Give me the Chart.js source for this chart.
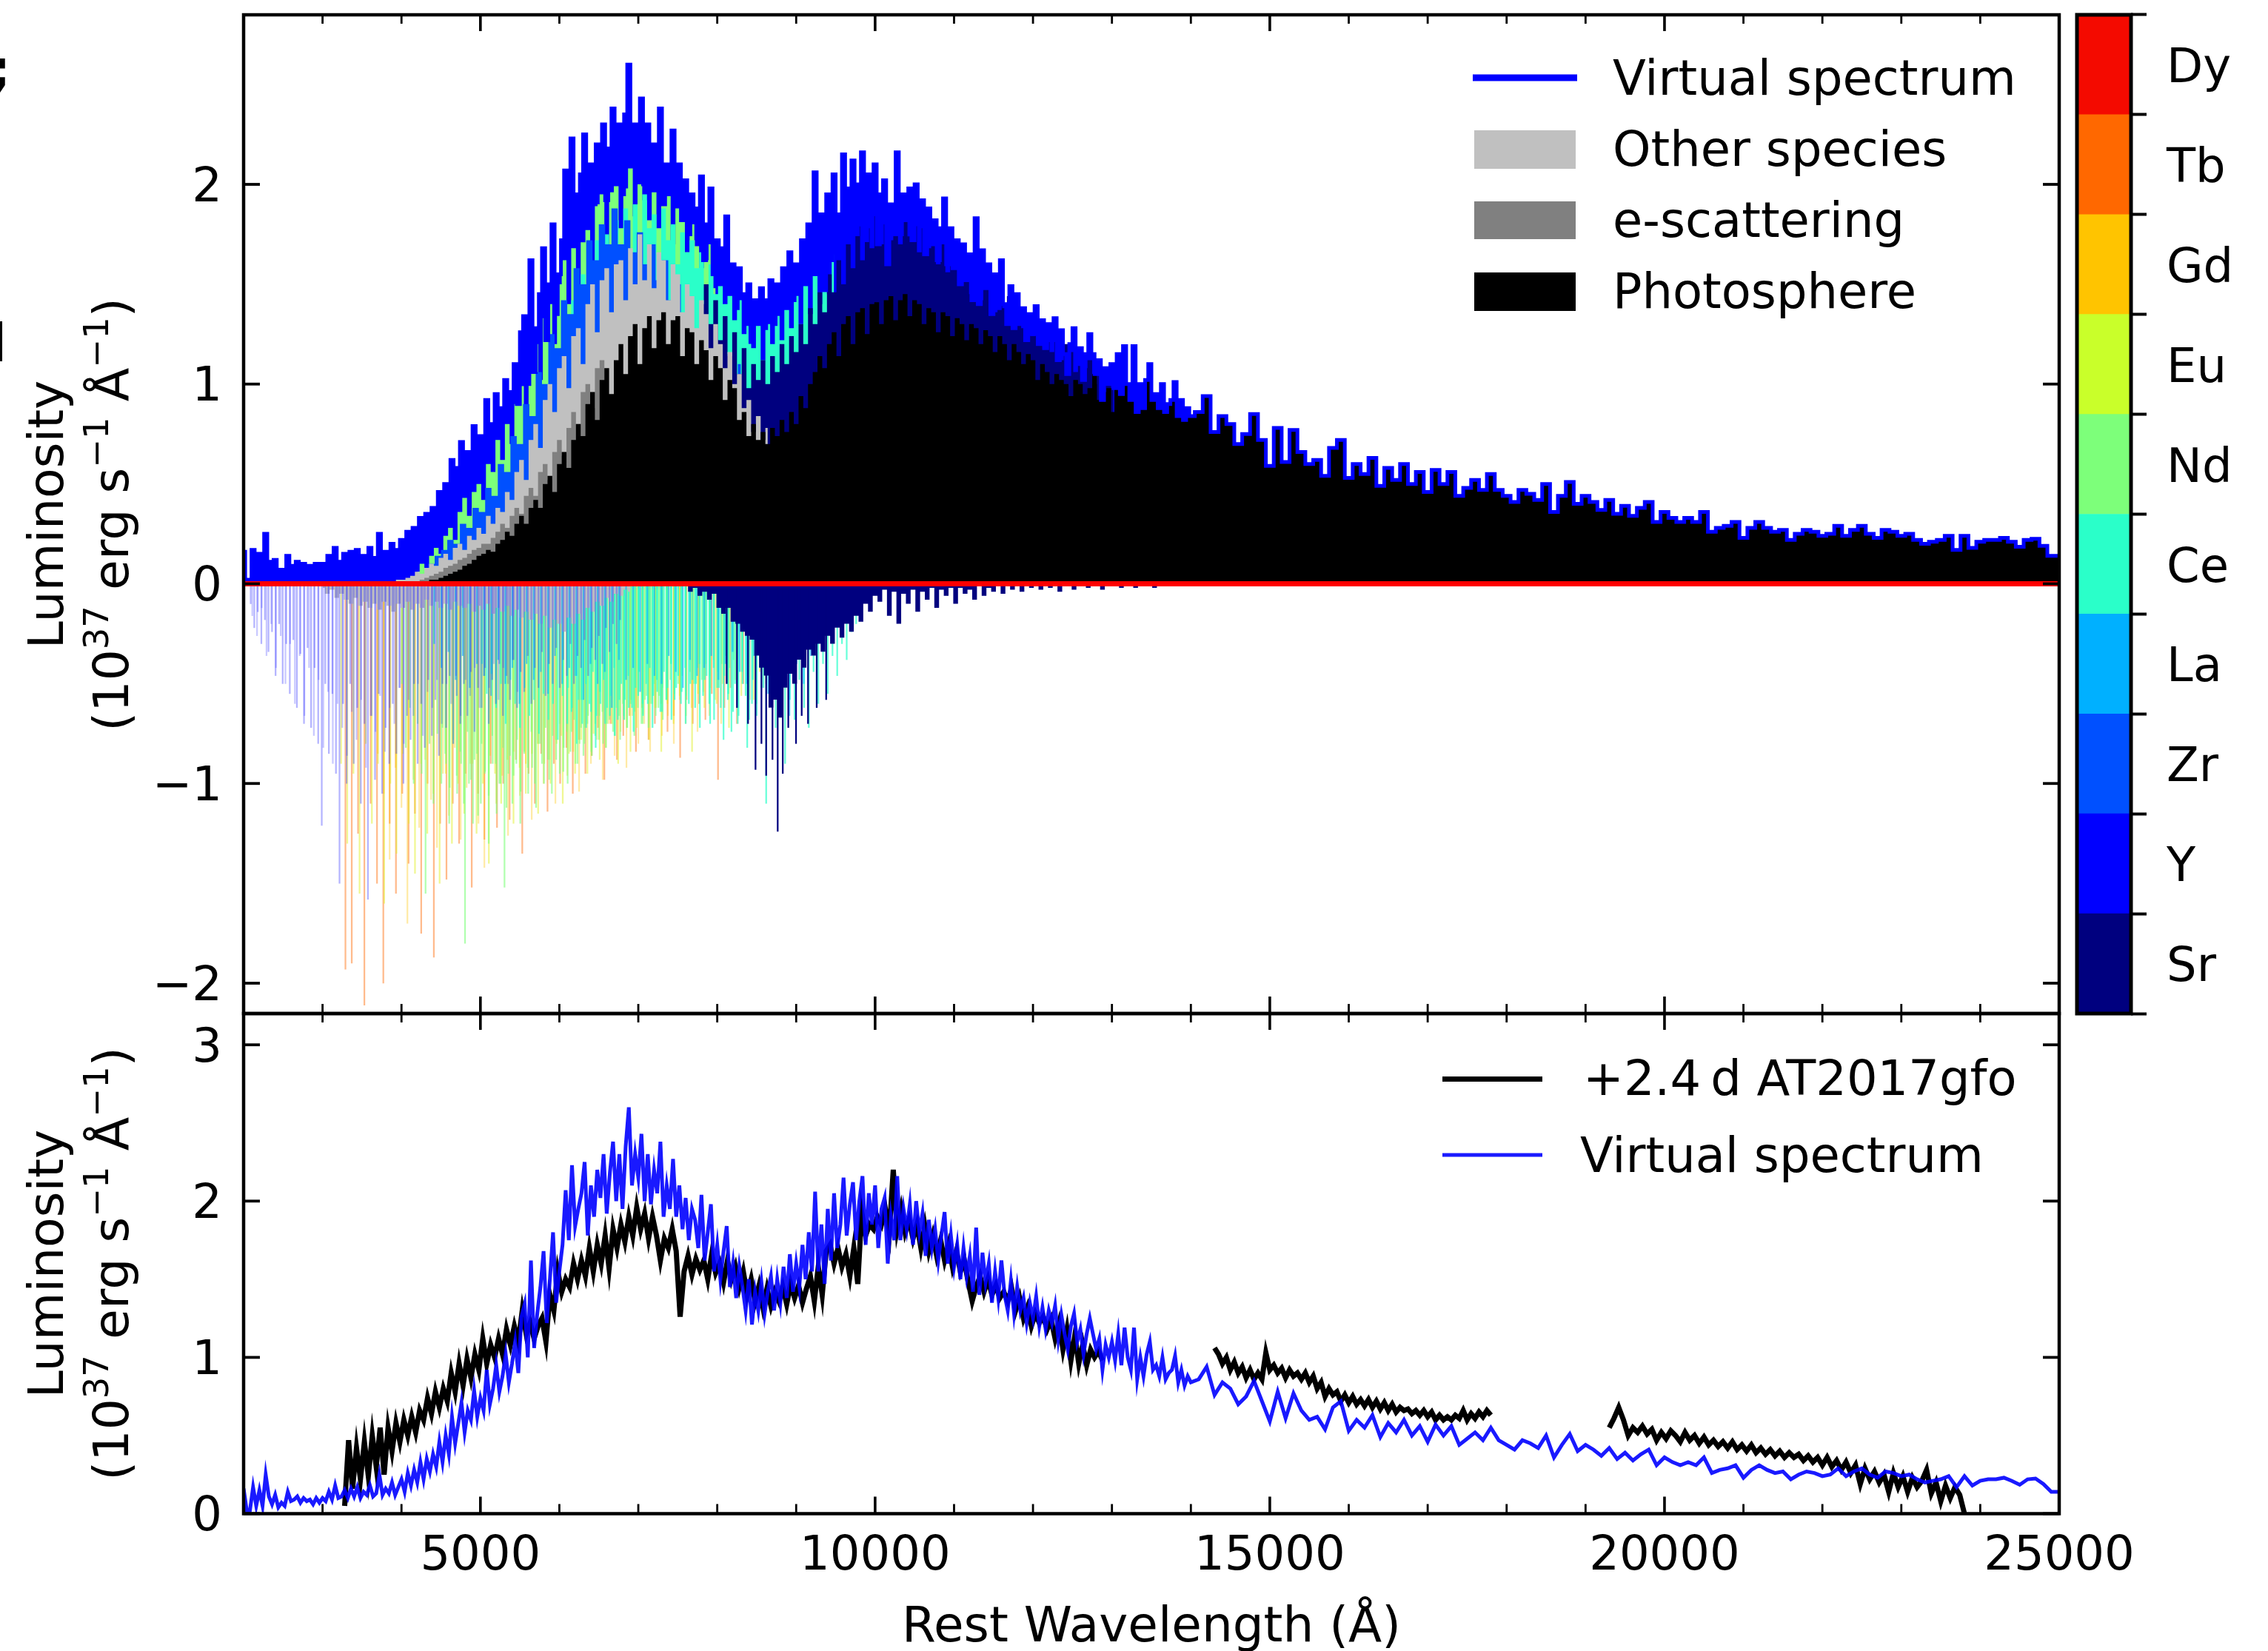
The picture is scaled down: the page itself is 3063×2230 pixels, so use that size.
<!DOCTYPE html>
<html lang="en">
<head>
  <meta charset="UTF-8" />
  <title>Virtual spectrum vs AT2017gfo</title>
  <script src="https://cdn.jsdelivr.net/npm/chart.js"></script>
  <style>
    body { margin: 0; background: #fff; overflow: hidden; }
    canvas { position: absolute; left: 0; top: -100px; }
  </style>
</head>
<body>
  <canvas id="spectrumChart" width="3063" height="2400"></canvas>
  <canvas id="compareChart" width="3063" height="2400"></canvas>
  <canvas id="elementBar" width="3063" height="2400"></canvas>
  <script>
    // luminosity in 1e37 erg/s/A
    // virtual spectrum, 2000-13960 A every 40 A
    const virtualBlue = [
      .16,.02,.02,.17,.05,.15,.05,.25,.11,.06,.12,.04,.07,.05,.14,.08,.09,.11,.07,.10,.08,.09,.06,.10,.07,
      .10,.08,.14,.09,.18,.10,.11,.15,.10,.16,.11,.17,.10,.14,.12,.18,.11,.13,.25,.12,.16,.13,.20,.12,.17,
      .22,.14,.26,.18,.28,.20,.33,.22,.35,.27,.38,.30,.46,.33,.50,.38,.62,.45,.58,.71,.52,.66,.60,.79,.62,
      .74,.66,.92,.70,.80,.95,.78,.88,1.02,.84,.96,1.10,.90,1.26,1.34,1.0,1.62,1.06,1.28,1.45,1.68,1.22,1.50,1.80,1.35,
      1.55,1.72,2.07,1.75,2.23,1.84,1.95,2.05,2.25,1.78,2.1,1.9,2.2,2.02,2.3,1.92,2.18,2.38,2.0,2.3,1.95,2.35,2.6,2.1,2.3,
      2.15,2.43,2.0,2.3,1.98,2.2,2.05,2.38,1.9,2.1,1.95,2.27,1.9,2.1,1.82,2.02,1.75,1.95,1.88,1.7,2.04,1.62,1.8,1.98,1.55,
      1.72,1.5,1.68,1.84,1.45,1.6,1.38,1.58,1.45,1.3,1.5,1.21,1.42,1.3,1.48,1.28,1.42,1.52,1.3,1.5,1.35,1.58,1.38,1.66,1.42,
      1.6,1.45,1.72,1.5,1.8,1.55,2.06,1.55,1.85,1.47,1.95,1.62,2.05,1.7,1.85,2.15,1.78,1.98,2.12,1.75,2.0,2.16,1.72,2.05,1.85,
      2.1,1.7,1.95,2.02,1.6,1.9,1.75,2.16,1.75,1.95,1.82,1.98,1.72,2.0,1.8,1.92,1.65,1.88,1.7,1.82,1.62,1.78,1.93,1.6,1.78,
      1.58,1.72,1.5,1.7,1.52,1.65,1.42,1.83,1.4,1.67,1.48,1.6,1.35,1.55,1.38,1.62,1.4,1.3,1.49,1.28,1.45,1.3,1.38,1.22,1.35,
      1.25,1.39,1.2,1.32,1.18,1.3,1.22,1.33,1.12,1.27,1.15,1.05,1.2,1.28,1.1,1.18,1.02,1.15,1.25,1.15,1.05,1.12,.92,1.08,1.0,
      1.1,.98,1.15,.95,1.19,1.0,.92,1.19,.86,1.0,.88,1.02,1.1,.92,.95,.88,1.0,.86,.9,.92,1.01,.84,.92,.82,.88
    ];
    // virtual spectrum, 14000-25000 A every 100 A
    const virtualRed = [
      .84,.86,.94,.76,.84,.80,.70,.75,.85,.72,
      .59,.78,.61,.77,.66,.60,.62,.54,.68,.72,
      .53,.60,.55,.63,.49,.58,.52,.60,.50,.56,
      .46,.57,.50,.56,.44,.48,.52,.47,.55,.47,
      .44,.41,.47,.45,.42,.50,.36,.44,.51,.40,
      .44,.41,.37,.42,.35,.39,.34,.38,.41,.31,
      .36,.33,.31,.33,.31,.36,.26,.28,.29,.31,
      .23,.28,.31,.28,.26,.27,.22,.25,.27,.26,
      .24,.25,.29,.24,.27,.29,.25,.23,.27,.26,
      .24,.25,.22,.20,.21,.22,.24,.17,.24,.18,
      .21,.22,.22,.23,.21,.185,.22,.225,.19,.14,
      .14
    ];

    // top edge of each emission layer, every 60 A
    const photosphereTop = [
      0,.01,.02,.02,.03,.04,.05,.06,.07,.09,.1,.12,.14,.15,.17,.16,.2,
      .22,.26,.24,.3,.34,.3,.38,.42,.38,.5,.54,.46,.6,.66,.58,.72,.8,
      .74,.9,.96,.82,1.02,1.08,.95,1.12,1.2,1.05,1.24,1.3,1.1,1.28,1.34,1.18,1.32,
      1.36,1.2,1.32,1.34,1.14,1.28,1.26,1.1,1.22,1.17,1.02,1.14,1.08,.92,1.02,.98,.82,
      .86,.74,.8,.72,.76,.7,.78,.74,.82,.76,.86,.8,.94,.88,1.0,1.06,1.14,
      1.08,1.2,1.26,1.14,1.3,1.34,1.2,1.36,1.38,1.25,1.4,1.41,1.3,1.42,1.44,1.32,1.42,
      1.45,1.34,1.42,1.4,1.3,1.38,1.36,1.26,1.36,1.34,1.24,1.33,1.3,1.22,1.3,1.28,1.2,
      1.27,1.24,1.16,1.24,1.2,1.12,1.2,1.16,1.1,1.15,1.12,1.02,1.1,1.06,1.0,1.05,1.02,
      1.0,.94,1.02,1.0,.95,.98,1.05,.92,.96,.98,.86
    ];
    const escatterTop = [
      .01,.02,.03,.04,.05,.06,.08,.09,.1,.12,.13,.15,.17,.18,.2,.2,.23,.26,.3,.28,.34,
      .38,.35,.44,.48,.44,.56,.6,.52,.66,.72,.64,.78,.86,.8,.96,1.0,.88,1.08,1.12,1.0
    ];
    const otherTop = [
      .01,.02,.02,.03,.04,.06,.05,.08,.1,.09,.13,.15,.12,.18,.2,.17,.24,
      .22,.28,.25,.34,.3,.38,.36,.46,.42,.56,.62,.52,.72,.8,.68,.92,1.0,
      .86,1.08,1.14,.98,1.24,1.28,1.1,1.4,1.5,1.26,1.52,1.58,1.36,1.6,1.62,1.42,1.68,
      1.5,1.75,1.52,1.7,1.48,1.66,1.62,1.42,1.6,1.55,1.36,1.5,1.44,1.28,1.42,1.35,1.18,
      1.3,1.2,1.08,1.16,1.0,1.05,.88,.92,.76,.84,.72,.78
    ];
    const srTop = [
      1.4,1.5,1.3,1.42,1.22,1.34,1.14,1.26,1.05,1.18,.98,1.1,1.02,1.12,1.0,1.14,1.06,
      1.2,1.1,1.24,1.16,1.3,1.2,1.38,1.3,1.46,1.36,1.55,1.46,1.62,1.5,1.7,1.58,1.79,
      1.62,1.78,1.68,1.85,1.7,1.8,1.72,1.88,1.7,1.84,1.74,1.8,1.66,1.78,1.68,1.74,1.6,
      1.7,1.56,1.66,1.6,1.52,1.62,1.45,1.58,1.42,1.52,1.48,1.36,1.46,1.38,1.44,1.3,1.36,
      1.28,1.34,1.24,1.3,1.2,1.26,1.16,1.24,1.12,1.2,1.16,1.06,1.14,1.08,1.12,1.0,1.08,
      1.02,1.06,.98
    ];
    const ndTop = [
      .06,.1,.08,.14,.18,.15,.24,.28,.22,.36,.43,.34,.46,.5,.42,.6,.56,
      .72,.62,.8,.7,.9,.99,.85,1.1,1.2,1.02,1.33,1.4,1.2,1.5,1.62,1.4,1.68,
      1.5,1.71,1.82,1.6,1.9,1.95,1.7,1.96,2.02,1.78,1.98,2.08,1.84,2.0,1.92,1.82,1.96,
      1.78,1.91,1.98,1.7,1.88,1.84,1.66,1.8,1.72,1.58,1.62,1.7,1.48
    ];
    const ceTop = [
      1.1,1.3,1.2,1.42,1.3,1.55,1.4,1.6,1.72,1.5,1.75,1.6,1.82,1.68,1.88,1.6,1.9,
      1.72,1.95,1.78,1.85,1.65,1.88,1.72,1.8,1.6,1.76,1.66,1.72,1.58,1.66,1.5,1.6,1.45,
      1.55,1.4,1.5,1.32,1.42,1.25,1.38,1.18,1.32,1.12,1.3,1.2,1.36,1.22,1.4,1.28,1.45,
      1.3,1.5,1.35,1.55,1.4,1.6,1.45,1.65
    ];
    // every 80 A
    const zrTop = [
      .08,.1,.14,.17,.22,.2,.3,.28,.38,.36,.48,.44,.6,.56,.74,.7,.9,.84,1.06,1.0,1.25,1.18,1.42,1.35,1.58,1.5,
      1.72,1.62,1.8,1.7,1.88,1.7,1.82,1.66,1.76,1.6,1.7,1.52,1.62,1.42,1.5,1.3,1.42,1.2,1.3,1.12,1.22,1.05,1.15,1.0,1.1
    ];

    // absorption side (negative luminosity)
    const srDepth = [
      -.01,-.04,-.02,-.06,-.04,-.08,-.05,-.12,-.15,-.12,-.19,-.2,-.24,-.26,-.28,-.36,-.42,
      -.46,-.62,-.58,-.67,-.52,-.45,-.5,-.38,-.42,-.33,-.36,-.3,-.34,-.26,-.3,-.22,-.27,
      -.2,-.24,-.16,-.19,-.1,-.14,-.06,-.09,-.03,-.16,-.04,-.2,-.05,-.1,-.03,-.14,-.04,
      -.08,-.02,-.12,-.03,-.06,-.02,-.1,-.02,-.05,-.03,-.08,-.01,-.06,-.02,-.04,-.01,-.05,
      -.01,-.03,-.01,-.04,-.01,-.02,-.01,-.03,-.01,-.02,-.01,-.04,-.01,-.01,-.03,-.01,-.01,
      -.02,-.01,-.01,-.03,-.01,-.01,-.01,-.02,-.01,-.01,-.02,-.01,-.01,-.01,-.02,-.01
    ];
    const otherDepth = [
      -.02,-.05,-.03,-.07,-.05,-.08,-.1,-.07,-.11,-.09,-.12,-.1,-.13,-.09,-.11,-.14,-.1,-.12,-.09,-.13,
      -.1,-.12,-.08,-.11,-.09,-.12,-.1,-.13,-.09,-.11,-.12,-.1,-.14,-.11,-.13,-.1,-.15,-.12,-.14,-.11,
      -.16,-.13,-.17,-.14,-.18,-.15,-.2,-.16,-.22,-.18,-.2,-.24,-.17,-.2,-.15,-.18,-.12,-.14,-.09,-.11,
      -.07,-.09,-.05,-.06,-.03,-.04
    ];
    // thin absorption lines: wavelength of the strong Sr lines
    const srLineWave = [8120,8250,8390,8485,8560,8620,8700,8766,8830,8900,8998,9070,9150,9260,9380];
    const srLineDepth = [-.5,-.62,-.7,-.93,-.8,-.96,-.88,-1.24,-.95,-.72,-.8,-.66,-.7,-.62,-.58];
    const tbDepth = [
      -1.93,-1.9,-1.25,-2.11,-1.1,-1.5,-2.0,-1.2,-1.55,-1.05,-1.4,-1.15,-1.75,-1.0,-1.87,-1.2,-1.48,-1.1,-1.3,-.95,
      -1.52,-1.05,-1.28,-.9,-1.22,-1.0,-1.18,-.88,-1.35,-.95,-1.1,-.85,-1.14,-.9,-1.0,-.82,-1.05,-.78,-.95,-.86,
      -.72,-.98,-.7,-.88,-.76,-.66,-.84,-.62,-.78,-.7,-.6,-.74,-.66,-.87,-.58,-.7,-.6,-.68,-.55,-.98,-.62,-.52,-.7,-.5,-.58
    ];
    const euDepth = [
      -.9,-1.3,-.95,-1.55,-.8,-1.2,-.9,-1.6,-1.0,-1.35,-.85,-1.2,-1.45,-.9,-1.25,-1.05,-1.5,-.95,-1.3,-1.0,
      -1.15,-.9,-1.25,-1.0,-1.4,-.95,-1.1,-.88,-1.2,-.92,-1.05,-.85,-1.15,-.9,-1.0,-.8,-1.1,-.85,-.95,-.78,
      -.95,-.75,-.88,-.82,-.7,-.9,-.68,-.84,-.72,-.65,-.78,-.62,-.84,-.6,-.7,-.56,-.66,-.84,-.55,-.62,-.52,-.6,-.5,-.72,-.48,-.56,-.46,-.58,-.44,-.5
    ];
    const euDepthFine = [
      -.85,-1.05,-1.38,-.92,-1.12,-1.7,-.98,-1.22,-.88,-1.08,-1.32,-.95,-1.16,-.82,-1.28,-1.02,-.9,-1.2,-1.42,-.86,
      -1.1,-.96,-1.26,-.84,-1.06,-.9,-1.18,-.8,-1.0,-.88,-1.1,-.76,-.96,-.84,-1.04,-.72,-.9,-.78,-.98,-.7,
      -.86,-.74,-.92,-.66,-.8,-.7,-.84,-.62,-.76,-.66,-.8,-.58,-.7,-.62,-.74,-.54,-.66,-.58,-.7,-.5
    ];
    const ndDepth = [
      -.5,-.82,-.62,-1.0,-.7,-.95,-1.55,-.8,-1.1,-.75,-1.0,-.85,-1.2,-.8,-1.05,-.9,-1.8,-1.0,-1.2,-.85,
      -1.1,-.95,-1.3,-.9,-1.15,-1.0,-1.52,-.95,-1.1,-.9,-1.2,-.85,-1.05,-.92,-1.12,-.8,-1.0,-.88,-1.05,-.78,
      -.95,-.82,-1.0,-.74,-.9,-.8,-.86,-.7,-.84,-.76,-.66,-.8,-.7,-.62,-.76,-.66,-.6,-.72,-.58,-.64,-.54,-.7,-.56,-.6,-.5,-.62,-.52,-.58,-.48,-.55,
      -.5,-.46,-.56,-.44,-.5,-.42,-.48,-.4,-.46,-.38,-.44,-.4,-.36,-.42,-.38,-.35
    ];
    const ndDepthFine = [
      -.72,-.9,-1.02,-.78,-.96,-.84,-1.1,-.74,-.98,-.88,-1.16,-.8,-.94,-1.06,-.76,-.9,-1.0,-.82,-1.12,-.86,
      -.96,-.78,-1.04,-.84,-.92,-.74,-1.0,-.8,-.9,-.72,-.98,-.76,-.88,-.7,-.94,-.74,-.84,-.68,-.9,-.72,
      -.8,-.66,-.86,-.7,-.78,-.64,-.82,-.68,-.74,-.62,-.78,-.66,-.72,-.6,-.76,-.62,-.7,-.58,-.72,-.6,-.66,-.56,-.68,-.58
    ];
    const ceDepth = [
      -.4,-.55,-.45,-.62,-.5,-.7,-.48,-.6,-.72,-.52,-.66,-.58,-.75,-.55,-.68,-.6,-.78,-.56,-.7,-.62,
      -.8,-.58,-.72,-.64,-.82,-.6,-.7,-.66,-.76,-.58,-.68,-.62,-.74,-.56,-.66,-.6,-.72,-.54,-.64,-.58,
      -.68,-.52,-.6,-.7,-.5,-.62,-.72,-.48,-.6,-.68,-.52,-.78,-.55,-.64,-.7,-.5,-.82,-.6,-.66,-.52,
      -1.1,-.6,-.72,-.55,-.9,-.58,-.68,-.48,-.62,-.72,-.44,-.6,-.4,-.55,-.36,-.46,-.3,-.38,-.24,-.2
    ];
    const ceDepthFine = [
      -.52,-.64,-.46,-.58,-.7,-.5,-.6,-.44,-.66,-.54,-.48,-.62,-.56,-.42,-.68,-.5,-.58,-.46,-.62,-.52,
      -.44,-.6,-.5,-.42,-.56,-.48,-.64,-.44,-.52,-.4,-.58,-.46,-.54,-.42,-.6,-.48,-.5,-.4,-.56,-.46,
      -.7,-.42,-.52,-.62,-.46,-.58,-.74,-.5,-.66,-.44,-.56,-.68,-.48,-.6,-.42,-.52,-.38,-.46,-.36,-.32
    ];
    const laDepth = [
      -.3,-.42,-.34,-.48,-.36,-.52,-.4,-.46,-.56,-.38,-.5,-.42,-.6,-.4,-.48,-.44,-.55,-.36,-.5,-.42,
      -.46,-.58,-.4,-.5,-.44,-.62,-.38,-.48,-.42,-.54,-.4,-.46,-.5,-.36,-.44,-.52,-.38,-.46,-.42,-.36,
      -.48,-.4,-.34,-.44,-.5,-.36,-.42,-.55,-.38,-.46,-.66,-.4,-.5,-.36,-.3
    ];
    const yDepth = [
      -.1,-.22,-.14,-.3,-.18,-.34,-.24,-.46,-.2,-.5,-.3,-.55,-.28,-.62,-.35,-.7,-.32,-.72,-.42,-.8,
      -1.21,-.5,-.85,-.55,-.95,-1.5,-.6,-1.0,-.5,-.9,-.62,-1.1,-.7,-1.58,-.66,-.98,-.55,-1.05,-.72,-.9,
      -.6,-.85,-.52,-1.0,-.66,-.78,-.5,-.9,-.6,-.82,-.48,-.76,-.58,-.86,-.5,-.72,-.46,-.8,-.56,-.7,
      -.5,-.66,-.44,-.74,-.52,-.62,-.42,-.7,-.48,-.6,-.4,-.66,-.46,-.58,-.38,-.62,-.44,-.54,-.36,-.6,
      -.42,-.52,-.34,-.56,-.4,-.5,-.32,-.52,-.38,-.46,-.3,-.5,-.36,-.42,-.28,-.46,-.32,-.38,-.26,-.4,-.22,-.34,-.2,-.3,-.18
    ];
    const yDepthFine = [
      -.16,-.26,-.12,-.36,-.2,-.42,-.26,-.5,-.3,-.6,-.36,-.66,-.42,-.76,-.48,-.82,-.54,-.9,-.6,-.72,
      -.86,-.64,-.78,-.58,-.92,-.66,-.74,-.56,-.84,-.62,-.7,-.52,-.8,-.58,-.66,-.5,-.76,-.54,-.62,-.48,
      -.7,-.5,-.6,-.46,-.66,-.48,-.56,-.42,-.62,-.46,-.52,-.4,-.58,-.42,-.5,-.38,-.54
    ];
    const zeroWave = [2000, 25000];
    const zeroLine = [0, 0];

    // +2.4 d AT2017gfo, three wavelength ranges
    const observedOptical = [
      .05,.47,.16,.42,.22,.46,.24,.5,.3,.55,
      .25,.55,.4,.58,.46,.6,.5,.62,.52,.66,
      .6,.74,.64,.78,.68,.8,.72,.9,.78,.96,
      .82,.99,.87,1.02,.92,1.12,.96,1.08,1.0,1.12,
      1.02,1.18,1.08,1.2,1.1,1.3,1.15,1.22,1.12,1.2,
      1.25,1.1,1.4,1.3,1.55,1.42,1.5,1.45,1.6,1.5,
      1.62,1.52,1.7,1.55,1.72,1.6,1.78,1.57,1.82,1.7,
      1.85,1.74,1.9,1.78,1.96,1.82,1.92,1.76,1.9,1.78,
      1.62,1.76,1.7,1.82,1.68,1.26,1.55,1.65,1.53,1.63,
      1.56,1.62,1.5,1.66,1.54,1.6,1.48,1.62,1.5,1.58,
      1.45,1.55,1.4,1.5,1.36,1.46,1.32,1.44,1.33,1.42,
      1.36,1.45,1.34,1.47,1.38,1.46,1.35,1.44,1.52,1.36,
      1.58,1.4,1.68,1.72,1.6,1.7,1.58,1.66,1.52,1.7,
      1.47,1.93,1.78,1.85,1.82,1.9,1.85,1.95,1.8,2.2,
      1.82,1.95,1.8,1.88,1.76,1.85,1.7,1.84,1.68,1.78,
      1.65,1.75,1.62,1.72,1.58,1.68,1.55,1.62,1.48,1.36,
      1.45,1.52,1.42,1.5,1.4,1.46,1.38,1.42,1.36,1.44,
      1.3,1.38,1.25,1.32,1.2,1.28,1.22,1.26,1.18,1.24,
      1.12,1.22,1.05,1.18,.98,1.14,.96,1.08,.95,1.05,
      1.0,1.04,.98
    ];
    const observedJ = [
      1.06,1.02,.96,1.0,.92,.97,.9,.94,.87,.92,
      .86,.9,.86,1.03,.92,.95,.9,.93,.87,.92,
      .88,.9,.86,.9,.84,.88,.8,.84,.75,.8,
      .76,.78,.72,.76,.71,.75,.7,.73,.69,.73,
      .68,.72,.67,.71,.66,.7,.65,.68,.66,.67,
      .64,.66,.63,.66,.62,.65,.6,.63,.6,.62,
      .6,.63,.61,.66,.6,.64,.61,.65,.62,.66,
      .63
    ];
    const observedK = [
      .55,.61,.68,.6,.5,.55,.52,.56,.51,.54,
      .47,.52,.48,.53,.5,.46,.52,.47,.5,.45,
      .49,.44,.47,.43,.46,.42,.46,.41,.44,.4,
      .44,.39,.42,.38,.41,.37,.4,.36,.39,.36,
      .38,.34,.37,.33,.36,.31,.36,.3,.34,.28,
      .33,.26,.31,.19,.29,.22,.27,.2,.25,.14,
      .26,.17,.24,.14,.23,.17,.21,.28,.13,.2,
      .08,.18,.1,.17,.12,0
    ];

    const elements = ['Dy', 'Tb', 'Gd', 'Eu', 'Nd', 'Ce', 'La', 'Zr', 'Y', 'Sr'];
    const elementBand = [1, 1, 1, 1, 1, 1, 1, 1, 1, 1];
    const elementColors = ['#f40a00', '#ff6800', '#ffc400', '#c9ff2a', '#7dff7a', '#2affc9', '#00b0ff', '#0050ff', '#0000ff', '#00007f'];

    const xMajor = [5000, 10000, 15000, 20000, 25000];
    const xMinor = [3000, 4000, 6000, 7000, 8000, 9000, 11000, 12000, 13000, 14000, 16000, 17000, 18000, 19000, 21000, 22000, 23000, 24000];
    const yTopTicks = [-2, -1, 0, 1, 2];
    const yBottomTicks = [0, 1, 2, 3];

    const FONT = 'DejaVu Sans';
    Chart.defaults.font.family = FONT;
    Chart.defaults.font.size = 64;
    Chart.defaults.color = '#000';
    Chart.defaults.animation = false;

    const bins = (values, start, step) => values.map((v, i) => ({ x: start + i * step, y: v }));
    const pairs = (xs, ys) => xs.map((x, i) => ({ x, y: ys[i] }));

    const virtualPoints = bins(virtualBlue, 2000, 40).concat(bins(virtualRed, 14000, 100));
    const photospherePoints = bins(photosphereTop, 4260, 60).concat(virtualPoints.filter(p => p.x > 13020));

    const area = (data, color) => ({
      type: 'line', data, stepped: 'middle', fill: 'origin', backgroundColor: color,
      borderWidth: 0, pointRadius: 0
    });
    const spikes = (data, color) => ({
      type: 'bar', data, backgroundColor: color, grouped: false, barThickness: 1.6
    });
    const line = (data, color, width, stepped) => ({
      type: 'line', data, borderColor: color, borderWidth: width, pointRadius: 0,
      fill: false, stepped: stepped || false, borderJoinStyle: 'miter', tension: 0
    });
    // first in the list is drawn first (chart.js draws high order first)
    const backToFront = list => list.map((d, i) => Object.assign(d, { order: list.length - i }));

    function yLabel(ctx, centerY) {
      ctx.save();
      ctx.fillStyle = '#000';
      ctx.textBaseline = 'alphabetic';
      ctx.translate(85, centerY);
      ctx.rotate(-Math.PI / 2);
      ctx.textAlign = 'center';
      ctx.font = '66.5px "' + FONT + '"';
      ctx.fillText('Luminosity', 0, 0);
      ctx.textAlign = 'left';
      const runs = [['(10'], ['37', 1], [' erg s'], ['\u22121', 1], [' \u00c5'], ['\u22121', 1], [')']];
      const fontOf = r => (r[1] ? '46.5px "' : '66.5px "') + FONT + '"';
      let total = 0;
      runs.forEach(r => { ctx.font = fontOf(r); total += ctx.measureText(r[0]).width; });
      let x = -total / 2;
      runs.forEach(r => {
        ctx.font = fontOf(r);
        ctx.fillText(r[0], x, r[1] ? 61 : 88);
        x += ctx.measureText(r[0]).width;
      });
      ctx.restore();
    }

    function framePlugin(opts) {
      return {
        id: 'frame',
        afterDraw(chart) {
          const { ctx, chartArea: a } = chart;
          const sx = chart.scales.x, sy = chart.scales.y;
          ctx.save();
          ctx.strokeStyle = '#000';
          ctx.fillStyle = '#000';
          const tick = (x0, y0, x1, y1, w) => {
            ctx.lineWidth = w;
            ctx.beginPath(); ctx.moveTo(x0, y0); ctx.lineTo(x1, y1); ctx.stroke();
          };
          xMajor.forEach(v => {
            const p = sx.getPixelForValue(v);
            tick(p, a.bottom, p, a.bottom - 23, 3.6);
            tick(p, a.top, p, a.top + 22, 3.6);
          });
          xMinor.forEach(v => {
            const p = sx.getPixelForValue(v);
            tick(p, a.bottom, p, a.bottom - 13, 2.8);
            tick(p, a.top, p, a.top + 12, 2.8);
          });
          opts.yTicks.forEach(v => {
            const p = sy.getPixelForValue(v);
            tick(a.left, p, a.left + 22, p, 3.8);
            tick(a.right, p, a.right - 22, p, 3.8);
          });
          ctx.lineWidth = 4.5;
          ctx.strokeRect(a.left, a.top, a.width, a.height);

          ctx.font = '65.5px "' + FONT + '"';
          ctx.textAlign = 'left';
          ctx.textBaseline = 'alphabetic';
          opts.legend.forEach(item => {
            ctx.fillStyle = '#000';
            ctx.fillText(item.label, item.textX, item.baseline + 100);
            ctx.fillStyle = item.color;
            ctx.fillRect(item.x0, item.y0 + 100, item.x1 - item.x0, item.y1 - item.y0);
          });
          yLabel(ctx, opts.labelY + 100);

          if (opts.strays) {
            // bits of neighbouring text cut off by the figure's left edge
            ctx.fillStyle = '#000';
            ctx.font = 'bold 72px "' + FONT + '"';
            ctx.fillText(';', -14, 218);
            ctx.fillRect(0, 534, 3, 54);
          }
          ctx.restore();
        }
      };
    }

    function axes(yMin, yMax, yTicks, showX) {
      return {
        x: {
          type: 'linear', min: 2000, max: 25000, offset: false,
          grid: { display: false, drawTicks: false }, border: { display: false },
          afterBuildTicks: s => { s.ticks = xMajor.map(value => ({ value })); },
          afterFit: s => { s.height = showX ? 195 : 0; },
          ticks: { display: showX, padding: 20, autoSkip: false, maxRotation: 0, minRotation: 0, callback: v => String(v) },
          title: { display: showX, text: 'Rest Wavelength (\u00c5)', padding: 0, font: { size: 66 } }
        },
        y: {
          type: 'linear', min: yMin, max: yMax,
          grid: { display: false, drawTicks: false }, border: { display: false },
          afterBuildTicks: s => { s.ticks = yTicks.map(value => ({ value })); },
          afterFit: s => { s.width = 329; },
          ticks: { padding: 29, labelOffset: 6, callback: v => String(v).replace('-', '\u2212') }
        }
      };
    }

    new Chart(document.getElementById('spectrumChart'), {
      type: 'line',
      data: {
        datasets: backToFront([
          spikes(bins(tbDepth, 3290, 80), 'rgba(255,104,0,.45)'),
          spikes(bins(euDepth, 3235, 78), 'rgba(225,240,40,.5)'),
          spikes(bins(euDepthFine, 3700, 75), 'rgba(255,196,0,.35)'),
          spikes(bins(ndDepth, 4005, 50), 'rgba(125,255,122,.6)'),
          spikes(bins(ndDepthFine, 4520, 45), 'rgba(125,255,122,.6)'),
          spikes(bins(ceDepth, 5020, 60), 'rgba(42,255,201,.7)'),
          spikes(bins(ceDepthFine, 6110, 45), 'rgba(42,255,201,.7)'),
          area(bins(otherDepth, 3000, 60), '#c0c0c0'),
          spikes(bins(laDepth, 4415, 90), 'rgba(0,176,255,.6)'),
          spikes(bins(yDepth, 2090, 45), 'rgba(40,40,255,.35)'),
          spikes(bins(yDepthFine, 2110, 60), 'rgba(40,40,255,.25)'),
          area(bins(srDepth, 7600, 60), '#00007f'),
          spikes(pairs(srLineWave, srLineDepth), '#00007f'),
          area(virtualPoints, '#0000ff'),
          area(bins(ndTop, 4200, 60), '#7dff7a'),
          area(bins(ceTop, 6000, 60), '#2affc9'),
          area(bins(zrTop, 4300, 80), '#0050ff'),
          area(bins(srTop, 7800, 60), '#00007f'),
          area(bins(otherTop, 3900, 60), '#c0c0c0'),
          area(bins(escatterTop, 4200, 60), '#808080'),
          area(photospherePoints, '#000'),
          line(virtualPoints, '#0000ff', 5, 'middle'),
          line(pairs(zeroWave, zeroLine), '#f00', 7)
        ])
      },
      options: {
        responsive: false,
        layout: { padding: { left: 0, right: 282, top: 120, bottom: 931 } },
        plugins: { legend: { display: false }, tooltip: { enabled: false } },
        scales: axes(-2.152, 2.849, yTopTicks, false)
      },
      plugins: [framePlugin({
        yTicks: yTopTicks, labelY: 695, strays: true,
        legend: [
          { label: 'Virtual spectrum', textX: 2178, baseline: 128, color: '#0000ff', x0: 1989, x1: 2130, y0: 100.5, y1: 109.5 },
          { label: 'Other species', textX: 2178, baseline: 224, color: '#c0c0c0', x0: 1991, x1: 2128, y0: 176, y1: 228 },
          { label: 'e-scattering', textX: 2178, baseline: 320, color: '#808080', x0: 1991, x1: 2128, y0: 272, y1: 323 },
          { label: 'Photosphere', textX: 2178, baseline: 416, color: '#000', x0: 1991, x1: 2128, y0: 368, y1: 420 }
        ]
      })]
    });

    new Chart(document.getElementById('compareChart'), {
      type: 'line',
      data: {
        datasets: backToFront([
          line(bins(observedOptical, 3280, 50), '#000', 7),
          line(bins(observedJ, 14300, 50), '#000', 7),
          line(bins(observedK, 19300, 60), '#000', 7),
          line(virtualPoints, 'rgba(0,0,255,.9)', 5)
        ])
      },
      options: {
        responsive: false,
        layout: { padding: { left: 0, right: 282, top: 1469, bottom: 60.5 } },
        plugins: { legend: { display: false }, tooltip: { enabled: false } },
        scales: axes(0, 3.2, yBottomTicks, true)
      },
      plugins: [framePlugin({
        yTicks: yBottomTicks, labelY: 1707,
        legend: [
          { label: '+2.4\u2009d AT2017gfo', textX: 2138, baseline: 1479, color: '#000', x0: 1948, x1: 2083, y0: 1454, y1: 1461 },
          { label: 'Virtual spectrum', textX: 2134, baseline: 1583, color: '#1a1aff', x0: 1948, x1: 2083, y0: 1557.5, y1: 1562.5 }
        ]
      })]
    });

    new Chart(document.getElementById('elementBar'), {
      type: 'bar',
      data: {
        labels: elements,
        datasets: [{ data: elementBand, backgroundColor: elementColors, barPercentage: 1, categoryPercentage: 1 }]
      },
      options: {
        indexAxis: 'y',
        responsive: false,
        layout: { padding: { left: 2805, right: 0, top: 120, bottom: 931 } },
        plugins: { legend: { display: false }, tooltip: { enabled: false } },
        scales: {
          x: { display: false, min: 0, max: 1 },
          y: {
            position: 'right',
            afterFit: s => { s.width = 185; },
            border: { display: false },
            grid: { drawOnChartArea: false, tickLength: 21, tickWidth: 4, tickColor: '#000' },
            ticks: { padding: 27, labelOffset: 7, autoSkip: false }
          }
        }
      },
      plugins: [{
        id: 'barFrame',
        afterDraw(chart) {
          const { ctx, chartArea: a } = chart;
          ctx.save();
          ctx.strokeStyle = '#000';
          ctx.lineWidth = 5;
          ctx.strokeRect(a.left, a.top, a.width, a.height);
          ctx.restore();
        }
      }]
    });
  </script>
</body>
</html>
